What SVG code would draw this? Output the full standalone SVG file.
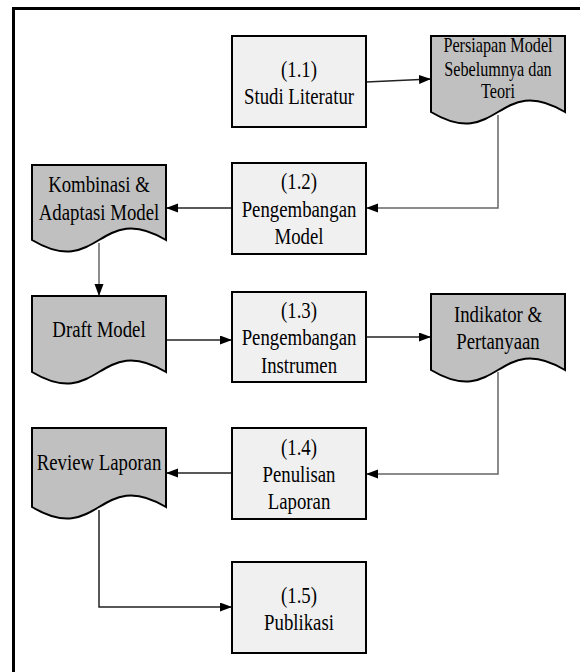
<svg xmlns="http://www.w3.org/2000/svg" width="580" height="672" viewBox="0 0 580 672">
<style>
.proc{fill:#f0f0f0;stroke:#000;stroke-width:2}
.doc{fill:#c0c0c0;stroke:#000;stroke-width:2}
.ln{fill:none;stroke:#222;stroke-width:1.5}
.lg{fill:none;stroke:#666;stroke-width:1.5}
</style>
<defs>
<marker id="arr" markerUnits="userSpaceOnUse" markerWidth="13" markerHeight="10" refX="12" refY="4.5" orient="auto">
<path d="M0,0 L12,4.5 L0,9 z" fill="#000"/>
</marker>
</defs>
<rect x="0" y="0" width="580" height="672" fill="#fff"/>
<rect x="13.5" y="8.5" width="700" height="700" fill="none" stroke="#000" stroke-width="3"/>

<g id="connectors">
<path class="ln" d="M366,82 L431,79" marker-end="url(#arr)"/>
<path class="lg" d="M498,115 V208 H366" marker-end="url(#arr)"/>
<path class="ln" d="M232,208 H166" marker-end="url(#arr)"/>
<path class="lg" d="M99,243 V296" marker-end="url(#arr)"/>
<path class="ln" d="M166,340 H232" marker-end="url(#arr)"/>
<path class="ln" d="M366,337 H431" marker-end="url(#arr)"/>
<path class="lg" d="M498,372 V474 H366" marker-end="url(#arr)"/>
<path class="ln" d="M232,473 H166" marker-end="url(#arr)"/>
<path class="ln" d="M99,510 V607 H232" marker-end="url(#arr)"/>
</g>

<g font-family="Liberation Serif, serif" font-size="18.8" text-anchor="middle" fill="#000">
<g id="p11">
<rect class="proc" x="232" y="36" width="134" height="91"/>
<text transform="translate(299,77) scale(1,1.27)">(1.1)</text>
<text transform="translate(299,104) scale(1,1.27)">Studi Literatur</text>
</g>

<g id="dPersiapan" font-size="16.2">
<path class="doc" d="M431,36 H565 V112 C498,72 498,152 431,112 Z"/>
<text transform="translate(498,52) scale(1,1.27)">Persiapan Model</text>
<text transform="translate(498,76) scale(1,1.27)">Sebelumnya dan</text>
<text transform="translate(498,98) scale(1,1.27)">Teori</text>
</g>

<g id="p12">
<rect class="proc" x="232" y="163" width="134" height="91"/>
<text transform="translate(299,189) scale(1,1.27)">(1.2)</text>
<text transform="translate(299,216.5) scale(1,1.27)">Pengembangan</text>
<text transform="translate(299,244) scale(1,1.27)">Model</text>
</g>

<g id="dKombinasi">
<path class="doc" d="M32,165 H166 V240 C99,200 99,280 32,240 Z"/>
<text transform="translate(99,192) scale(1,1.27)">Kombinasi &amp;</text>
<text transform="translate(99,219.5) scale(1,1.27)">Adaptasi Model</text>
</g>

<g id="dDraft">
<path class="doc" d="M32,296 H166 V372 C99,332 99,412 32,372 Z"/>
<text transform="translate(99,337) scale(1,1.27)">Draft Model</text>
</g>

<g id="p13">
<rect class="proc" x="232" y="292" width="134" height="90"/>
<text transform="translate(299,318) scale(1,1.27)">(1.3)</text>
<text transform="translate(299,345) scale(1,1.27)">Pengembangan</text>
<text transform="translate(299,373) scale(1,1.27)">Instrumen</text>
</g>

<g id="dIndikator">
<path class="doc" d="M431,294 H565 V370 C498,330 498,410 431,370 Z"/>
<text transform="translate(498,322) scale(1,1.27)">Indikator &amp;</text>
<text transform="translate(498,348.5) scale(1,1.27)">Pertanyaan</text>
</g>

<g id="p14">
<rect class="proc" x="232" y="428" width="134" height="91"/>
<text transform="translate(299,455) scale(1,1.27)">(1.4)</text>
<text transform="translate(299,482) scale(1,1.27)">Penulisan</text>
<text transform="translate(299,508.5) scale(1,1.27)">Laporan</text>
</g>

<g id="dReview">
<path class="doc" d="M32,428 H166 V507 C99,467 99,547 32,507 Z"/>
<text transform="translate(99,470) scale(1,1.27)">Review Laporan</text>
</g>

<g id="p15">
<rect class="proc" x="232" y="562" width="134" height="91"/>
<text transform="translate(299,603) scale(1,1.27)">(1.5)</text>
<text transform="translate(299,630) scale(1,1.27)">Publikasi</text>
</g>
</g>
</svg>
